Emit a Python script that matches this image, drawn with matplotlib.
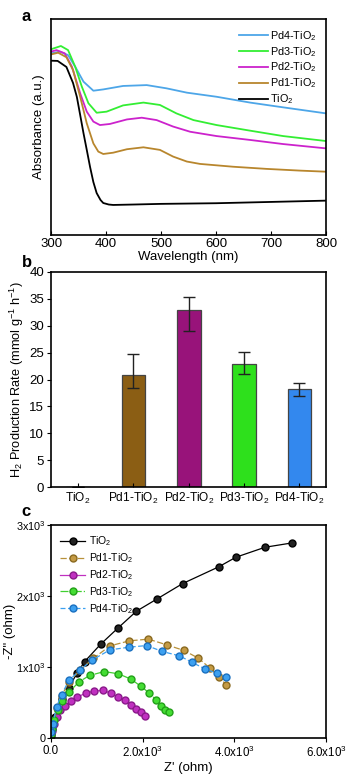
import matplotlib
matplotlib.use("Agg")
import matplotlib.pyplot as plt

plt.rcParams['font.family'] = ['Liberation Sans', 'DejaVu Sans']
plt.rcParams['mathtext.fontset'] = 'custom'
plt.rcParams['mathtext.rm'] = 'Liberation Sans'
plt.rcParams['axes.linewidth'] = 1.2

# ---- panel a: UV-vis absorbance (a.u.) ----
tio2_nm = [300, 312, 328, 340, 347, 353, 359, 365, 371, 377, 383, 390, 395, 405, 413, 450, 500, 600, 700, 800]
tio2_abs = [0.807, 0.806, 0.778, 0.704, 0.639, 0.556, 0.472, 0.394, 0.315, 0.245, 0.194, 0.162, 0.148, 0.141,
            0.139, 0.141, 0.144, 0.147, 0.153, 0.159]
pd1_nm = [300, 313, 328, 340, 353, 365, 377, 386, 395, 413, 438, 468, 498, 522, 547, 571, 631, 692, 753, 800]
pd1_abs = [0.836, 0.844, 0.823, 0.764, 0.640, 0.517, 0.424, 0.386, 0.375, 0.381, 0.397, 0.406, 0.394, 0.363,
           0.340, 0.329, 0.316, 0.306, 0.298, 0.293]
pd2_nm = [300, 310, 325, 338, 353, 365, 377, 389, 407, 438, 465, 492, 522, 553, 601, 662, 722, 800]
pd2_abs = [0.849, 0.856, 0.841, 0.779, 0.656, 0.571, 0.525, 0.509, 0.514, 0.535, 0.543, 0.532, 0.502, 0.478,
           0.458, 0.440, 0.421, 0.401]
pd3_nm = [300, 318, 331, 344, 356, 368, 383, 401, 431, 468, 498, 528, 559, 601, 662, 722, 800]
pd3_abs = [0.860, 0.875, 0.856, 0.779, 0.687, 0.610, 0.566, 0.571, 0.600, 0.613, 0.602, 0.563, 0.532, 0.509,
           0.483, 0.458, 0.435]
pd4_nm = [300, 316, 331, 344, 359, 377, 395, 431, 474, 510, 547, 601, 662, 722, 800]
pd4_abs = [0.841, 0.849, 0.833, 0.779, 0.710, 0.668, 0.674, 0.690, 0.694, 0.679, 0.659, 0.640, 0.613, 0.591, 0.563]

# ---- panel b: H2 production ----
samples = ['TiO$_2$', 'Pd1-TiO$_2$', 'Pd2-TiO$_2$', 'Pd3-TiO$_2$', 'Pd4-TiO$_2$']
rate = [0.0, 20.9, 32.9, 22.9, 18.3]
err_low = [0.0, 2.4, 3.8, 1.8, 1.4]
err_high = [0.0, 3.8, 2.4, 2.2, 1.0]

# ---- panel c: Nyquist ----
tio2_zr = [7, 22, 36, 80, 153, 240, 386, 574, 735, 1084, 1455, 1865, 2305, 2873, 3658, 4036, 4669, 5258]
tio2_zi = [60, 126, 201, 295, 408, 548, 703, 922, 1077, 1321, 1545, 1786, 1955, 2175, 2410, 2546, 2686, 2747]
pd1_zr = [10, 40, 120, 230, 390, 640, 920, 1287, 1709, 2124, 2524, 2902, 3215, 3470, 3666, 3819]
pd1_zi = [70, 190, 420, 590, 790, 960, 1120, 1297, 1368, 1392, 1312, 1232, 1124, 983, 857, 750]
pd2_zr = [5, 20, 60, 120, 200, 300, 429, 575, 757, 938, 1135, 1302, 1462, 1607, 1738, 1862, 1971, 2044]
pd2_zi = [30, 100, 200, 300, 390, 450, 515, 576, 632, 661, 670, 632, 576, 529, 468, 412, 361, 314]
pd3_zr = [5, 20, 60, 150, 240, 400, 610, 840, 1160, 1469, 1745, 1964, 2146, 2291, 2400, 2487, 2575]
pd3_zi = [40, 130, 260, 390, 515, 650, 790, 880, 935, 904, 829, 726, 632, 538, 454, 398, 361]
pd4_zr = [10, 40, 120, 230, 390, 630, 900, 1287, 1709, 2088, 2429, 2800, 3084, 3368, 3615, 3811]
pd4_zi = [80, 200, 440, 610, 810, 955, 1100, 1241, 1279, 1302, 1218, 1157, 1063, 970, 914, 857]

fig = plt.figure(figsize=(3.48, 7.76), dpi=100)

# panel a
ax1 = fig.add_axes([0.1466, 0.6972, 0.7902, 0.2783])
ax1.plot(pd4_nm, pd4_abs, color='#4da6e8', lw=1.3, label='Pd4-TiO$_2$')
ax1.plot(pd3_nm, pd3_abs, color='#33ee33', lw=1.3, label='Pd3-TiO$_2$')
ax1.plot(pd2_nm, pd2_abs, color='#cc22cc', lw=1.3, label='Pd2-TiO$_2$')
ax1.plot(pd1_nm, pd1_abs, color='#b8862d', lw=1.3, label='Pd1-TiO$_2$')
ax1.plot(tio2_nm, tio2_abs, color='black', lw=1.3, label='TiO$_2$')
ax1.set_xlim(300, 800)
ax1.set_ylim(0, 1)
ax1.set_yticks([])
ax1.set_xticks([300, 400, 500, 600, 700, 800])
ax1.tick_params(axis='x', direction='in', length=3, labelsize=9.5, pad=2)
ax1.set_xlabel('Wavelength (nm)', fontsize=9.5, labelpad=1)
ax1.set_ylabel('Absorbance (a.u.)', fontsize=9.5, labelpad=4)
ax1.legend(loc='upper right', fontsize=7.8, frameon=False, handlelength=2.6,
           handletextpad=0.2, labelspacing=0.2, borderaxespad=0.5)

# panel b
ax2 = fig.add_axes([0.1466, 0.3724, 0.7902, 0.2771])
bar_cols = ['#ffffff', '#8b5e14', '#98137a', '#2ee01c', '#3388ee']
xs = list(range(len(samples)))
ax2.bar(xs, rate, width=0.43, color=bar_cols, edgecolor='#444444', linewidth=0.9)
ax2.errorbar(xs, rate, yerr=[err_low, err_high], fmt='none', ecolor='#222222',
             elinewidth=1.0, capsize=4, capthick=1.0)
ax2.set_xlim(-0.49, 4.48)
ax2.set_ylim(0, 40)
ax2.set_yticks(range(0, 41, 5))
ax2.set_xticks(xs)
ax2.set_xticklabels(samples)
ax2.tick_params(axis='x', direction='in', length=3, labelsize=8.6, pad=3)
ax2.tick_params(axis='y', direction='out', length=3, labelsize=9.5, pad=2)
ax2.set_ylabel('H$_2$ Production Rate (mmol g$^{-1}$ h$^{-1}$)', fontsize=9.2, labelpad=2)

# panel c
ax3 = fig.add_axes([0.1466, 0.049, 0.7902, 0.2745])
ax3.plot(tio2_zr, tio2_zi, '-o', color='black', lw=0.9, ms=5, mfc='#222222', mec='black', label='TiO$_2$')
ax3.plot(pd1_zr, pd1_zi, '--o', color='#b8913a', lw=0.9, ms=5, mfc='#c49a44', mec='#8a6a20',
         dashes=(5, 2), label='Pd1-TiO$_2$')
ax3.plot(pd2_zr, pd2_zi, '-o', color='#c030c0', lw=0.9, ms=5, mfc='#c030c0', mec='#8a1a8a', label='Pd2-TiO$_2$')
ax3.plot(pd3_zr, pd3_zi, '-.o', color='#40d030', lw=0.9, ms=5, mfc='#44dd33', mec='#22a018', label='Pd3-TiO$_2$')
ax3.plot(pd4_zr, pd4_zi, '--o', color='#3ca0f0', lw=0.9, ms=5, mfc='#3ca0f0', mec='#1a70c0',
         dashes=(4, 2), label='Pd4-TiO$_2$')
ax3.set_xlim(0, 6000)
ax3.set_ylim(0, 3000)
ax3.set_xticks([0, 2000, 4000, 6000])
ax3.set_xticklabels(['0.0', '2.0x10$^3$', '4.0x10$^3$', '6.0x10$^3$'])
ax3.set_yticks([0, 1000, 2000, 3000])
ax3.set_yticklabels(['0', '1x10$^3$', '2x10$^3$', '3x10$^3$'])
ax3.tick_params(axis='x', direction='out', length=3, labelsize=8.3, pad=2)
ax3.tick_params(axis='y', direction='out', length=3, labelsize=7.8, pad=1)
ax3.set_xlabel("Z' (ohm)", fontsize=9.5, labelpad=1)
ax3.set_ylabel('-Z" (ohm)', fontsize=9.5, labelpad=0)
ax3.legend(loc='upper left', fontsize=7.5, frameon=False, handlelength=2.4,
           handletextpad=0.3, labelspacing=0.3, borderaxespad=0.5)

# panel letters
fig.text(0.062, 0.989, 'a', fontsize=12, fontweight='bold', va='top')
fig.text(0.062, 0.672, 'b', fontsize=12, fontweight='bold', va='top')
fig.text(0.062, 0.351, 'c', fontsize=12, fontweight='bold', va='top')

fig.savefig('out.png', dpi=100)
